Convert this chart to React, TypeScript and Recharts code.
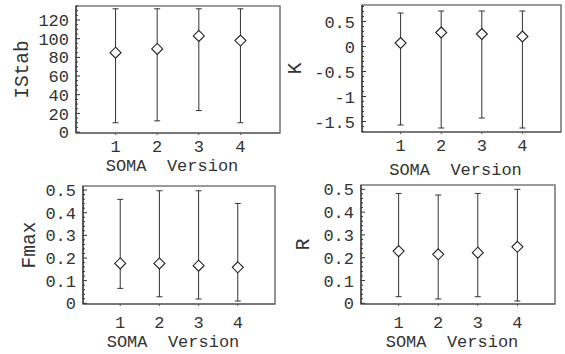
import React from 'react';
import { ScatterChart, Scatter, XAxis, YAxis, ErrorBar, ReferenceArea } from 'recharts';

const versions = [1, 2, 3, 4];

const istabMean = [85, 89, 103, 98];
const istabLow = [10, 12, 23, 10];
const istabHigh = [132, 132, 132, 132];

const kMean = [0.07, 0.28, 0.25, 0.2];
const kLow = [-1.57, -1.63, -1.43, -1.63];
const kHigh = [0.67, 0.71, 0.71, 0.71];

const fmaxMean = [0.176, 0.176, 0.166, 0.159];
const fmaxLow = [0.066, 0.029, 0.019, 0.01];
const fmaxHigh = [0.459, 0.497, 0.497, 0.441];

const rMean = [0.229, 0.215, 0.222, 0.248];
const rLow = [0.029, 0.019, 0.029, 0.01];
const rHigh = [0.482, 0.475, 0.482, 0.5];

const istabTicks = [0, 20, 40, 60, 80, 100, 120];
const kTicks = [-1.5, -1, -0.5, 0, 0.5];
const fracTicks = [0, 0.1, 0.2, 0.3, 0.4, 0.5];

const FONT = "'Liberation Mono', 'DejaVu Sans Mono', monospace";
const TEXT = '#333';
const X_DOMAIN: [number, number] = [0.05, 4.95];

const round = (v: number) => Math.round(v * 10000) / 10000;

// major ticks plus minor subdivisions inside the domain
const withMinor = (major: number[], step: number, domain: [number, number]) => {
  const out: number[] = [];
  const start = Math.ceil(domain[0] / step - 1e-9);
  const end = Math.floor(domain[1] / step + 1e-9);
  for (let i = start; i <= end; i++) out.push(round(i * step));
  major.forEach((m) => { if (!out.some((o) => Math.abs(o - m) < 1e-9)) out.push(m); });
  return out.sort((a, b) => a - b);
};

const fmt = (v: number) => (v === 0 ? '0' : String(v));

const YTick = (props: any) => {
  const { x, y, payload, major, margin } = props;
  const v = payload.value;
  const isMajor = major.some((m: number) => Math.abs(m - v) < 1e-9);
  const ax = x + margin;
  return (
    <g>
      <line x1={ax} x2={ax + (isMajor ? 4 : 2)} y1={y} y2={y} stroke="#333" strokeWidth={1} />
      {isMajor && (
        <text x={x} y={y} dy="0.36em" textAnchor="end" fontFamily={FONT} fontSize={17} fill={TEXT}>
          {fmt(v)}
        </text>
      )}
    </g>
  );
};

const YLabel = (props: any) => {
  const { viewBox, value, cx } = props;
  const x = viewBox.x + cx;
  const y = viewBox.y + viewBox.height / 2;
  return (
    <text x={x} y={y} dy="0.36em" transform={`rotate(-90, ${x}, ${y})`} textAnchor="middle"
      fontFamily={FONT} fontSize={19.5} fill={TEXT}>
      {value}
    </text>
  );
};

const XLabel = (props: any) => {
  const { viewBox, value, bottom, dx } = props;
  const x = viewBox.x + viewBox.width / 2 + dx;
  const y = viewBox.y + viewBox.height - bottom;
  return (
    <text x={x} y={y} textAnchor="middle" fontFamily={FONT} fontSize={17} fill={TEXT}>
      {value}
    </text>
  );
};

const Diamond = (props: any) => {
  const { cx, cy } = props;
  const r = 5.5;
  return (
    <path d={`M${cx},${cy - r}L${cx + r},${cy}L${cx},${cy + r}L${cx - r},${cy}Z`}
      fill="#fff" stroke="#222" strokeWidth={1.1} />
  );
};

interface PanelProps {
  left: number;
  top: number;
  width: number;
  margin: { top: number; right: number; bottom: number; left: number };
  yWidth: number;
  xHeight: number;
  xTickMargin: number;
  xLabelBottom: number;
  name: string;
  nameX: number;
  mean: number[];
  low: number[];
  high: number[];
  ticks: number[];
  minorStep: number;
  domain: [number, number];
}

const Panel = (p: PanelProps) => {
  const data = versions.map((v, i) => ({
    x: v,
    y: p.mean[i],
    err: [round(p.mean[i] - p.low[i]), round(p.high[i] - p.mean[i])],
  }));
  const allTicks = withMinor(p.ticks, p.minorStep, p.domain);
  return (
    <div style={{ position: 'absolute', left: p.left, top: p.top }}>
      <ScatterChart width={p.width} height={177 + p.margin.bottom} margin={p.margin}>
        <ReferenceArea x1={X_DOMAIN[0]} x2={X_DOMAIN[1]} y1={p.domain[0]} y2={p.domain[1]}
          fill="none" stroke="#7a7a7a" strokeWidth={1.6} ifOverflow="visible" />
        <XAxis type="number" dataKey="x" domain={X_DOMAIN} ticks={versions} allowDataOverflow
          height={p.xHeight} tickSize={2} tickMargin={p.xTickMargin} stroke="#555"
          tick={{ fontFamily: FONT, fontSize: 17, fill: TEXT }}
          label={<XLabel value={'SOMA\u00A0 Version'} bottom={p.xLabelBottom} dx={-6} />} />
        <YAxis type="number" dataKey="y" domain={p.domain} ticks={allTicks} allowDataOverflow
          interval={0} width={p.yWidth} tickSize={0} tickMargin={7} tickLine={false}
          axisLine={{ stroke: '#222' }}
          tick={<YTick major={p.ticks} margin={7} />}
          label={<YLabel value={p.name} cx={p.nameX} />} />
        <Scatter data={data} shape={<Diamond />} isAnimationActive={false}>
          <ErrorBar dataKey="err" direction="y" width={3} stroke="#333" strokeWidth={1} />
        </Scatter>
      </ScatterChart>
    </div>
  );
};

export default function App() {
  return (
    <div style={{ position: 'absolute', left: 0, top: 0, width: 565, height: 354, background: '#fff', overflow: 'hidden' }}>
      <Panel left={0} top={0} width={285} margin={{ top: 6, right: 5, bottom: 10, left: 0 }}
        yWidth={76} xHeight={44} xTickMargin={5} xLabelBottom={6}
        name="IStab" nameX={21} mean={istabMean} low={istabLow} high={istabHigh}
        ticks={istabTicks} minorStep={5} domain={[-1, 135]} />
      <Panel left={285} top={0} width={280} margin={{ top: 5, right: 4, bottom: 10, left: 0 }}
        yWidth={77} xHeight={45} xTickMargin={5} xLabelBottom={2}
        name="K" nameX={9} mean={kMean} low={kLow} high={kHigh}
        ticks={kTicks} minorStep={0.1} domain={[-1.71, 0.83]} />
      <Panel left={0} top={177} width={285} margin={{ top: 9, right: 10, bottom: 0, left: 0 }}
        yWidth={83} xHeight={50} xTickMargin={10} xLabelBottom={7}
        name="Fmax" nameX={28} mean={fmaxMean} low={fmaxLow} high={fmaxHigh}
        ticks={fracTicks} minorStep={0.02} domain={[-0.003, 0.518]} />
      <Panel left={285} top={177} width={280} margin={{ top: 8, right: 10, bottom: 0, left: 0 }}
        yWidth={76} xHeight={50} xTickMargin={10} xLabelBottom={7}
        name="R" nameX={17} mean={rMean} low={rLow} high={rHigh}
        ticks={fracTicks} minorStep={0.02} domain={[-0.003, 0.519]} />
    </div>
  );
}
